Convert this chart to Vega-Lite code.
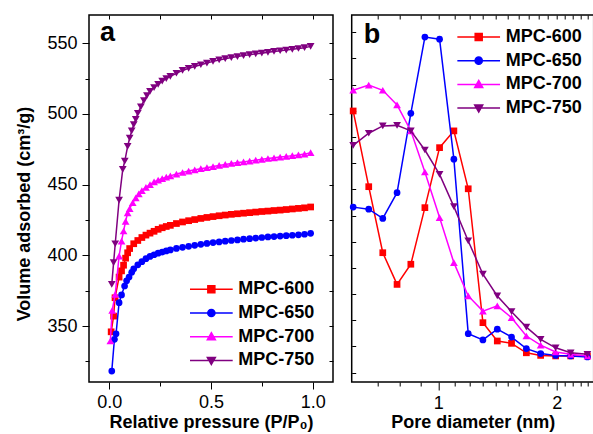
{
  "$schema": "https://vega.github.io/schema/vega-lite/v6.json",
  "background": "white",
  "padding": {"left": 14, "top": 13, "right": 0, "bottom": 0},
  "spacing": 12.7,
  "config": {
    "font": "Liberation Sans",
    "view": {"stroke": "#000", "strokeWidth": 1.5},
    "axis": {"domain": false, "grid": false, "tickColor": "#000", "tickWidth": 1, "labelColor": "#000", "labelFontSize": 18, "labelFont": "Liberation Sans", "titleFont": "Liberation Sans", "titleFontSize": 18, "titleFontWeight": "bold", "titleColor": "#000", "minExtent": 0}
  },
  "datasets": {
    "iso": [
      {"series": "MPC-600", "p": 0.009, "v": 345.9}, {"series": "MPC-600", "p": 0.021, "v": 357}, {"series": "MPC-600", "p": 0.028, "v": 370}, {"series": "MPC-600", "p": 0.048, "v": 384.6}, {"series": "MPC-600", "p": 0.06, "v": 389}, {"series": "MPC-600", "p": 0.07, "v": 393}, {"series": "MPC-600", "p": 0.08, "v": 398}, {"series": "MPC-600", "p": 0.09, "v": 401.8}, {"series": "MPC-600", "p": 0.1, "v": 404.8}, {"series": "MPC-600", "p": 0.12, "v": 408.2}, {"series": "MPC-600", "p": 0.14, "v": 410.5}, {"series": "MPC-600", "p": 0.16, "v": 412.6}, {"series": "MPC-600", "p": 0.18, "v": 414.3}, {"series": "MPC-600", "p": 0.2, "v": 415.7}, {"series": "MPC-600", "p": 0.22, "v": 417}, {"series": "MPC-600", "p": 0.24, "v": 418.4}, {"series": "MPC-600", "p": 0.26, "v": 419.5}, {"series": "MPC-600", "p": 0.28, "v": 420.4}, {"series": "MPC-600", "p": 0.3, "v": 421.2}, {"series": "MPC-600", "p": 0.33, "v": 422.5}, {"series": "MPC-600", "p": 0.36, "v": 423.6}, {"series": "MPC-600", "p": 0.39, "v": 424.5}, {"series": "MPC-600", "p": 0.42, "v": 425.3}, {"series": "MPC-600", "p": 0.45, "v": 426.1}, {"series": "MPC-600", "p": 0.48, "v": 426.8}, {"series": "MPC-600", "p": 0.51, "v": 427.4}, {"series": "MPC-600", "p": 0.54, "v": 428}, {"series": "MPC-600", "p": 0.57, "v": 428.5}, {"series": "MPC-600", "p": 0.6, "v": 429}, {"series": "MPC-600", "p": 0.63, "v": 429.4}, {"series": "MPC-600", "p": 0.66, "v": 429.8}, {"series": "MPC-600", "p": 0.69, "v": 430.2}, {"series": "MPC-600", "p": 0.72, "v": 430.6}, {"series": "MPC-600", "p": 0.75, "v": 431}, {"series": "MPC-600", "p": 0.78, "v": 431.3}, {"series": "MPC-600", "p": 0.81, "v": 431.7}, {"series": "MPC-600", "p": 0.84, "v": 432}, {"series": "MPC-600", "p": 0.87, "v": 432.4}, {"series": "MPC-600", "p": 0.9, "v": 432.8}, {"series": "MPC-600", "p": 0.93, "v": 433.2}, {"series": "MPC-600", "p": 0.96, "v": 433.6}, {"series": "MPC-600", "p": 0.99, "v": 434.2},
      {"series": "MPC-650", "p": 0.012, "v": 318.1}, {"series": "MPC-650", "p": 0.025, "v": 340.6}, {"series": "MPC-650", "p": 0.033, "v": 344.5}, {"series": "MPC-650", "p": 0.048, "v": 366.5}, {"series": "MPC-650", "p": 0.06, "v": 372}, {"series": "MPC-650", "p": 0.075, "v": 378.3}, {"series": "MPC-650", "p": 0.085, "v": 382}, {"series": "MPC-650", "p": 0.097, "v": 384.6}, {"series": "MPC-650", "p": 0.11, "v": 388}, {"series": "MPC-650", "p": 0.12, "v": 390.5}, {"series": "MPC-650", "p": 0.14, "v": 393.3}, {"series": "MPC-650", "p": 0.16, "v": 395.5}, {"series": "MPC-650", "p": 0.18, "v": 397.6}, {"series": "MPC-650", "p": 0.2, "v": 399.2}, {"series": "MPC-650", "p": 0.22, "v": 400.4}, {"series": "MPC-650", "p": 0.24, "v": 401.5}, {"series": "MPC-650", "p": 0.26, "v": 402.3}, {"series": "MPC-650", "p": 0.28, "v": 403.1}, {"series": "MPC-650", "p": 0.3, "v": 403.8}, {"series": "MPC-650", "p": 0.33, "v": 404.9}, {"series": "MPC-650", "p": 0.36, "v": 405.7}, {"series": "MPC-650", "p": 0.39, "v": 406.4}, {"series": "MPC-650", "p": 0.42, "v": 407.1}, {"series": "MPC-650", "p": 0.45, "v": 407.8}, {"series": "MPC-650", "p": 0.48, "v": 408.4}, {"series": "MPC-650", "p": 0.51, "v": 409}, {"series": "MPC-650", "p": 0.54, "v": 409.5}, {"series": "MPC-650", "p": 0.57, "v": 410}, {"series": "MPC-650", "p": 0.6, "v": 410.5}, {"series": "MPC-650", "p": 0.63, "v": 410.9}, {"series": "MPC-650", "p": 0.66, "v": 411.4}, {"series": "MPC-650", "p": 0.69, "v": 411.8}, {"series": "MPC-650", "p": 0.72, "v": 412.2}, {"series": "MPC-650", "p": 0.75, "v": 412.6}, {"series": "MPC-650", "p": 0.78, "v": 413}, {"series": "MPC-650", "p": 0.81, "v": 413.3}, {"series": "MPC-650", "p": 0.84, "v": 413.6}, {"series": "MPC-650", "p": 0.87, "v": 413.9}, {"series": "MPC-650", "p": 0.9, "v": 414.2}, {"series": "MPC-650", "p": 0.93, "v": 414.5}, {"series": "MPC-650", "p": 0.96, "v": 414.9}, {"series": "MPC-650", "p": 0.99, "v": 415.6},
      {"series": "MPC-700", "p": 0.005, "v": 339.4}, {"series": "MPC-700", "p": 0.014, "v": 361.1}, {"series": "MPC-700", "p": 0.029, "v": 372.4}, {"series": "MPC-700", "p": 0.048, "v": 399.5}, {"series": "MPC-700", "p": 0.06, "v": 410}, {"series": "MPC-700", "p": 0.07, "v": 417.2}, {"series": "MPC-700", "p": 0.08, "v": 424}, {"series": "MPC-700", "p": 0.09, "v": 430.1}, {"series": "MPC-700", "p": 0.1, "v": 433}, {"series": "MPC-700", "p": 0.115, "v": 437.2}, {"series": "MPC-700", "p": 0.13, "v": 440.6}, {"series": "MPC-700", "p": 0.145, "v": 443.5}, {"series": "MPC-700", "p": 0.16, "v": 445.8}, {"series": "MPC-700", "p": 0.18, "v": 448}, {"series": "MPC-700", "p": 0.2, "v": 450}, {"series": "MPC-700", "p": 0.22, "v": 451.9}, {"series": "MPC-700", "p": 0.24, "v": 453.2}, {"series": "MPC-700", "p": 0.26, "v": 454.3}, {"series": "MPC-700", "p": 0.28, "v": 455.3}, {"series": "MPC-700", "p": 0.3, "v": 456.2}, {"series": "MPC-700", "p": 0.33, "v": 457.5}, {"series": "MPC-700", "p": 0.36, "v": 458.6}, {"series": "MPC-700", "p": 0.39, "v": 459.6}, {"series": "MPC-700", "p": 0.42, "v": 460.5}, {"series": "MPC-700", "p": 0.45, "v": 461.3}, {"series": "MPC-700", "p": 0.48, "v": 462}, {"series": "MPC-700", "p": 0.51, "v": 462.8}, {"series": "MPC-700", "p": 0.54, "v": 463.6}, {"series": "MPC-700", "p": 0.57, "v": 464.3}, {"series": "MPC-700", "p": 0.6, "v": 465}, {"series": "MPC-700", "p": 0.63, "v": 465.6}, {"series": "MPC-700", "p": 0.66, "v": 466.1}, {"series": "MPC-700", "p": 0.69, "v": 466.7}, {"series": "MPC-700", "p": 0.72, "v": 467.3}, {"series": "MPC-700", "p": 0.75, "v": 467.9}, {"series": "MPC-700", "p": 0.78, "v": 468.5}, {"series": "MPC-700", "p": 0.81, "v": 469}, {"series": "MPC-700", "p": 0.84, "v": 469.5}, {"series": "MPC-700", "p": 0.87, "v": 470}, {"series": "MPC-700", "p": 0.9, "v": 470.5}, {"series": "MPC-700", "p": 0.93, "v": 471}, {"series": "MPC-700", "p": 0.96, "v": 471.6}, {"series": "MPC-700", "p": 0.99, "v": 472.6},
      {"series": "MPC-750", "p": 0.012, "v": 379.5}, {"series": "MPC-750", "p": 0.021, "v": 394.8}, {"series": "MPC-750", "p": 0.029, "v": 408.2}, {"series": "MPC-750", "p": 0.048, "v": 439.1}, {"series": "MPC-750", "p": 0.066, "v": 460.8}, {"series": "MPC-750", "p": 0.076, "v": 466.7}, {"series": "MPC-750", "p": 0.09, "v": 477}, {"series": "MPC-750", "p": 0.1, "v": 483}, {"series": "MPC-750", "p": 0.11, "v": 488}, {"series": "MPC-750", "p": 0.12, "v": 492.5}, {"series": "MPC-750", "p": 0.13, "v": 496.2}, {"series": "MPC-750", "p": 0.14, "v": 500.5}, {"series": "MPC-750", "p": 0.155, "v": 505}, {"series": "MPC-750", "p": 0.17, "v": 509.5}, {"series": "MPC-750", "p": 0.185, "v": 513}, {"series": "MPC-750", "p": 0.2, "v": 516}, {"series": "MPC-750", "p": 0.22, "v": 518.6}, {"series": "MPC-750", "p": 0.24, "v": 521}, {"series": "MPC-750", "p": 0.26, "v": 523.2}, {"series": "MPC-750", "p": 0.28, "v": 525}, {"series": "MPC-750", "p": 0.3, "v": 526.6}, {"series": "MPC-750", "p": 0.33, "v": 528.8}, {"series": "MPC-750", "p": 0.36, "v": 530.8}, {"series": "MPC-750", "p": 0.39, "v": 532.3}, {"series": "MPC-750", "p": 0.42, "v": 533.6}, {"series": "MPC-750", "p": 0.45, "v": 534.8}, {"series": "MPC-750", "p": 0.48, "v": 536}, {"series": "MPC-750", "p": 0.51, "v": 537.2}, {"series": "MPC-750", "p": 0.54, "v": 538.2}, {"series": "MPC-750", "p": 0.57, "v": 539.1}, {"series": "MPC-750", "p": 0.6, "v": 539.9}, {"series": "MPC-750", "p": 0.63, "v": 540.6}, {"series": "MPC-750", "p": 0.66, "v": 541.3}, {"series": "MPC-750", "p": 0.69, "v": 541.9}, {"series": "MPC-750", "p": 0.72, "v": 542.5}, {"series": "MPC-750", "p": 0.75, "v": 543}, {"series": "MPC-750", "p": 0.78, "v": 543.6}, {"series": "MPC-750", "p": 0.81, "v": 544.2}, {"series": "MPC-750", "p": 0.84, "v": 544.7}, {"series": "MPC-750", "p": 0.87, "v": 545.2}, {"series": "MPC-750", "p": 0.9, "v": 545.7}, {"series": "MPC-750", "p": 0.93, "v": 546.3}, {"series": "MPC-750", "p": 0.96, "v": 546.9}, {"series": "MPC-750", "p": 0.99, "v": 547.8}
    ],
    "psd": [
      {"series": "MPC-600", "d": 0.608, "v": 9.99}, {"series": "MPC-600", "d": 0.666, "v": 7.1}, {"series": "MPC-600", "d": 0.723, "v": 4.58}, {"series": "MPC-600", "d": 0.786, "v": 3.37}, {"series": "MPC-600", "d": 0.852, "v": 4.14}, {"series": "MPC-600", "d": 0.925, "v": 6.3}, {"series": "MPC-600", "d": 1.008, "v": 8.59}, {"series": "MPC-600", "d": 1.096, "v": 9.23}, {"series": "MPC-600", "d": 1.192, "v": 7.02}, {"series": "MPC-600", "d": 1.299, "v": 1.91}, {"series": "MPC-600", "d": 1.413, "v": 1.21}, {"series": "MPC-600", "d": 1.536, "v": 1.12}, {"series": "MPC-600", "d": 1.675, "v": 0.76}, {"series": "MPC-600", "d": 1.821, "v": 0.66}, {"series": "MPC-600", "d": 1.988, "v": 0.64}, {"series": "MPC-600", "d": 2.171, "v": 0.64}, {"series": "MPC-600", "d": 2.394, "v": 0.64},
      {"series": "MPC-650", "d": 0.608, "v": 6.32}, {"series": "MPC-650", "d": 0.666, "v": 6.24}, {"series": "MPC-650", "d": 0.723, "v": 5.89}, {"series": "MPC-650", "d": 0.786, "v": 6.87}, {"series": "MPC-650", "d": 0.852, "v": 9.9}, {"series": "MPC-650", "d": 0.925, "v": 12.81}, {"series": "MPC-650", "d": 1.008, "v": 12.73}, {"series": "MPC-650", "d": 1.096, "v": 8.15}, {"series": "MPC-650", "d": 1.192, "v": 1.49}, {"series": "MPC-650", "d": 1.299, "v": 1.25}, {"series": "MPC-650", "d": 1.413, "v": 1.66}, {"series": "MPC-650", "d": 1.536, "v": 1.36}, {"series": "MPC-650", "d": 1.675, "v": 0.92}, {"series": "MPC-650", "d": 1.821, "v": 0.73}, {"series": "MPC-650", "d": 1.988, "v": 0.66}, {"series": "MPC-650", "d": 2.171, "v": 0.64}, {"series": "MPC-650", "d": 2.394, "v": 0.6},
      {"series": "MPC-700", "d": 0.608, "v": 10.78}, {"series": "MPC-700", "d": 0.666, "v": 10.98}, {"series": "MPC-700", "d": 0.723, "v": 10.78}, {"series": "MPC-700", "d": 0.786, "v": 10.22}, {"series": "MPC-700", "d": 0.852, "v": 9.23}, {"series": "MPC-700", "d": 0.925, "v": 7.66}, {"series": "MPC-700", "d": 1.008, "v": 5.92}, {"series": "MPC-700", "d": 1.096, "v": 4.2}, {"series": "MPC-700", "d": 1.192, "v": 2.93}, {"series": "MPC-700", "d": 1.299, "v": 2.35}, {"series": "MPC-700", "d": 1.413, "v": 2.55}, {"series": "MPC-700", "d": 1.536, "v": 2.1}, {"series": "MPC-700", "d": 1.675, "v": 1.4}, {"series": "MPC-700", "d": 1.821, "v": 1.05}, {"series": "MPC-700", "d": 1.988, "v": 0.79}, {"series": "MPC-700", "d": 2.171, "v": 0.7}, {"series": "MPC-700", "d": 2.394, "v": 0.64},
      {"series": "MPC-750", "d": 0.608, "v": 8.68}, {"series": "MPC-750", "d": 0.666, "v": 9.14}, {"series": "MPC-750", "d": 0.723, "v": 9.42}, {"series": "MPC-750", "d": 0.786, "v": 9.44}, {"series": "MPC-750", "d": 0.852, "v": 9.23}, {"series": "MPC-750", "d": 0.925, "v": 8.5}, {"series": "MPC-750", "d": 1.008, "v": 7.57}, {"series": "MPC-750", "d": 1.096, "v": 6.34}, {"series": "MPC-750", "d": 1.192, "v": 5.03}, {"series": "MPC-750", "d": 1.299, "v": 3.76}, {"series": "MPC-750", "d": 1.413, "v": 2.93}, {"series": "MPC-750", "d": 1.536, "v": 2.33}, {"series": "MPC-750", "d": 1.675, "v": 1.74}, {"series": "MPC-750", "d": 1.821, "v": 1.27}, {"series": "MPC-750", "d": 1.988, "v": 0.95}, {"series": "MPC-750", "d": 2.171, "v": 0.76}, {"series": "MPC-750", "d": 2.394, "v": 0.7}
    ]
  },
  "hconcat": [
    {
      "width": 244,
      "height": 367,
      "data": {"name": "iso"},
      "layer": [
        {
          "transform": [{"filter": "datum.series === 'MPC-600'"}],
          "mark": {"type": "line", "color": "#ff0000", "strokeWidth": 1.5, "point": {"shape": "square", "size": 45, "filled": true, "opacity": 1, "color": "#ff0000"}},
          "encoding": {
            "x": {"field": "p", "type": "quantitative", "scale": {"domain": [-0.1, 1.1], "nice": false, "zero": false},
              "axis": {"orient": "bottom", "values": [0, 0.25, 0.5, 0.75, 1], "format": ".1f", "labelExpr": "datum.value % 0.5 === 0 ? datum.label : ''", "tickSize": {"condition": {"test": "datum.value === 0 || datum.value === 0.5 || datum.value === 1", "value": 7}, "value": 4}, "labelPadding": 4, "title": "Relative pressure (P/P₀)", "titleBaseline": "alphabetic", "titleY": 45.2}},
            "y": {"field": "v", "type": "quantitative", "scale": {"domain": [310.4, 570], "nice": false, "zero": false},
              "axis": {"orient": "left", "values": [325, 350, 375, 400, 425, 450, 475, 500, 525, 550], "labelExpr": "datum.value % 50 === 0 ? datum.label : ''", "tickSize": {"condition": {"test": "datum.value % 50 === 0", "value": 7}, "value": 4}, "labelPadding": 5, "title": "Volume adsorbed (cm³/g)", "titleBaseline": "alphabetic", "titleX": -59.7, "titleY": 198.5, "titleAngle": -90, "titleAlign": "center"}}
          }
        },
        {
          "transform": [{"filter": "datum.series === 'MPC-650'"}],
          "mark": {"type": "line", "color": "#0000ff", "strokeWidth": 1.5, "point": {"shape": "circle", "size": 45, "filled": true, "opacity": 1, "color": "#0000ff"}},
          "encoding": {
            "x": {"field": "p", "type": "quantitative", "axis": null},
            "y": {"field": "v", "type": "quantitative", "axis": null}
          }
        },
        {
          "transform": [{"filter": "datum.series === 'MPC-700'"}],
          "mark": {"type": "line", "color": "#ff00ff", "strokeWidth": 1.5, "point": {"shape": "triangle-up", "size": 60, "filled": true, "opacity": 1, "color": "#ff00ff"}},
          "encoding": {
            "x": {"field": "p", "type": "quantitative", "axis": null},
            "y": {"field": "v", "type": "quantitative", "axis": null}
          }
        },
        {
          "transform": [{"filter": "datum.series === 'MPC-750'"}],
          "mark": {"type": "line", "color": "#800080", "strokeWidth": 1.5, "point": {"shape": "triangle-down", "size": 60, "filled": true, "opacity": 1, "color": "#800080"}},
          "encoding": {
            "x": {"field": "p", "type": "quantitative", "axis": null},
            "y": {"field": "v", "type": "quantitative", "axis": null}
          }
        },
        {
          "transform": [{"filter": "false"}],
          "mark": {"type": "point", "opacity": 0},
          "encoding": {
            "x": {"field": "p", "type": "quantitative", "axis": {"orient": "top", "values": [0, 0.25, 0.5, 0.75, 1], "labels": false, "tickSize": -4, "title": "a", "titleX": 10.5, "titleY": 25.3, "titleAlign": "left", "titleBaseline": "alphabetic", "titleAngle": 0, "titleFontSize": 27, "titleFontWeight": "bold"}},
            "y": {"field": "v", "type": "quantitative", "axis": {"orient": "right", "values": [325, 350, 375, 400, 425, 450, 475, 500, 525, 550], "labels": false, "tickSize": -4, "title": null}}
          }
        },
        {
          "transform": [{"filter": "false"}],
          "mark": {"type": "point", "filled": true, "opacity": 1},
          "encoding": {
            "color": {"field": "series", "type": "nominal", "scale": {"domain": ["MPC-600", "MPC-650", "MPC-700", "MPC-750"], "range": ["#ff0000", "#0000ff", "#ff00ff", "#800080"]},
              "legend": {"orient": "none", "legendX": 113.35, "legendY": 265.3, "title": null, "labelFontSize": 18, "labelFontWeight": "bold", "labelFont": "Liberation Sans", "labelColor": "#000", "symbolSize": 100, "symbolStrokeWidth": 1.5, "labelOffset": 18, "rowPadding": 5.7, "padding": 0}},
            "stroke": {"field": "series", "type": "nominal", "scale": {"domain": ["MPC-600", "MPC-650", "MPC-700", "MPC-750"], "range": ["#ff0000", "#0000ff", "#ff00ff", "#800080"]},
              "legend": {"orient": "none", "legendX": 113.35, "legendY": 265.3, "title": null, "labelFontSize": 18, "labelFontWeight": "bold", "labelFont": "Liberation Sans", "labelColor": "#000", "symbolSize": 100, "symbolStrokeWidth": 1.5, "labelOffset": 18, "rowPadding": 5.7, "padding": 0}},
            "shape": {"field": "series", "type": "nominal", "scale": {"domain": ["MPC-600", "MPC-650", "MPC-700", "MPC-750"], "range": ["M-4.27,0L4.27,0M-0.7,-0.7L0.7,-0.7L0.7,0.7L-0.7,0.7Z", "M-4.27,0L4.27,0M-0.72,0A0.72,0.72,0,1,1,0.72,0A0.72,0.72,0,1,1,-0.72,0Z", "M-4.27,0L4.27,0M0,-0.8L0.8,0.6L-0.8,0.6Z", "M-4.27,0L4.27,0M0,0.8L0.8,-0.6L-0.8,-0.6Z"]},
              "legend": {"orient": "none", "legendX": 113.35, "legendY": 265.3, "title": null, "labelFontSize": 18, "labelFontWeight": "bold", "labelFont": "Liberation Sans", "labelColor": "#000", "symbolSize": 100, "symbolStrokeWidth": 1.5, "labelOffset": 18, "rowPadding": 5.7, "padding": 0}}
          }
        }
      ],
      "resolve": {"axis": {"x": "independent", "y": "independent"}}
    },
    {
      "width": 242,
      "height": 367,
      "data": {"name": "psd"},
      "layer": [
        {
          "transform": [{"filter": "datum.series === 'MPC-600'"}],
          "mark": {"type": "line", "color": "#ff0000", "strokeWidth": 1.5, "point": {"shape": "square", "size": 45, "filled": true, "opacity": 1, "color": "#ff0000"}},
          "encoding": {
            "x": {"field": "d", "type": "quantitative", "scale": {"type": "log", "domain": [0.6028, 2.4838], "nice": false},
              "axis": {"orient": "bottom", "values": [0.7, 0.8, 0.9, 1, 1.1, 1.2, 1.3, 1.4, 1.5, 1.6, 1.7, 1.8, 1.9, 2, 2.1, 2.2, 2.3, 2.4], "format": "~g", "labelExpr": "datum.value === 1 || datum.value === 2 ? datum.label : ''", "tickSize": {"condition": {"test": "datum.value === 1 || datum.value === 2", "value": 8}, "value": 4}, "labelPadding": 4, "title": "Pore diameter (nm)", "titleBaseline": "alphabetic", "titleY": 45.2}},
            "y": {"field": "v", "type": "quantitative", "scale": {"domain": [-0.355, 13.653], "nice": false, "zero": false},
              "axis": {"orient": "left", "values": [0, 1, 2, 3, 4, 5, 6, 7, 8, 9, 10, 11, 12, 13], "labels": false, "tickSize": -4, "title": null}}
          }
        },
        {
          "transform": [{"filter": "datum.series === 'MPC-650'"}],
          "mark": {"type": "line", "color": "#0000ff", "strokeWidth": 1.5, "point": {"shape": "circle", "size": 45, "filled": true, "opacity": 1, "color": "#0000ff"}},
          "encoding": {
            "x": {"field": "d", "type": "quantitative", "axis": null},
            "y": {"field": "v", "type": "quantitative", "axis": null}
          }
        },
        {
          "transform": [{"filter": "datum.series === 'MPC-700'"}],
          "mark": {"type": "line", "color": "#ff00ff", "strokeWidth": 1.5, "point": {"shape": "triangle-up", "size": 60, "filled": true, "opacity": 1, "color": "#ff00ff"}},
          "encoding": {
            "x": {"field": "d", "type": "quantitative", "axis": null},
            "y": {"field": "v", "type": "quantitative", "axis": null}
          }
        },
        {
          "transform": [{"filter": "datum.series === 'MPC-750'"}],
          "mark": {"type": "line", "color": "#800080", "strokeWidth": 1.5, "point": {"shape": "triangle-down", "size": 60, "filled": true, "opacity": 1, "color": "#800080"}},
          "encoding": {
            "x": {"field": "d", "type": "quantitative", "axis": null},
            "y": {"field": "v", "type": "quantitative", "axis": null}
          }
        },
        {
          "transform": [{"filter": "false"}],
          "mark": {"type": "point", "opacity": 0},
          "encoding": {
            "x": {"field": "d", "type": "quantitative", "axis": {"orient": "top", "values": [0.7, 0.8, 0.9, 1, 1.1, 1.2, 1.3, 1.4, 1.5, 1.6, 1.7, 1.8, 1.9, 2, 2.1, 2.2, 2.3, 2.4], "labels": false, "tickSize": -4, "title": "b", "titleX": 11.5, "titleY": 27.7, "titleAlign": "left", "titleBaseline": "alphabetic", "titleAngle": 0, "titleFontSize": 27, "titleFontWeight": "bold"}}
          }
        },
        {
          "transform": [{"filter": "false"}],
          "mark": {"type": "point", "filled": true, "opacity": 1},
          "encoding": {
            "color": {"field": "series", "type": "nominal", "scale": {"domain": ["MPC-600", "MPC-650", "MPC-700", "MPC-750"], "range": ["#ff0000", "#0000ff", "#ff00ff", "#800080"]},
              "legend": {"orient": "none", "legendX": 118, "legendY": 13, "title": null, "labelFontSize": 18, "labelFontWeight": "bold", "labelFont": "Liberation Sans", "labelColor": "#000", "symbolSize": 100, "symbolStrokeWidth": 1.5, "labelOffset": 18, "rowPadding": 5.7, "padding": 0}},
            "stroke": {"field": "series", "type": "nominal", "scale": {"domain": ["MPC-600", "MPC-650", "MPC-700", "MPC-750"], "range": ["#ff0000", "#0000ff", "#ff00ff", "#800080"]},
              "legend": {"orient": "none", "legendX": 118, "legendY": 13, "title": null, "labelFontSize": 18, "labelFontWeight": "bold", "labelFont": "Liberation Sans", "labelColor": "#000", "symbolSize": 100, "symbolStrokeWidth": 1.5, "labelOffset": 18, "rowPadding": 5.7, "padding": 0}},
            "shape": {"field": "series", "type": "nominal", "scale": {"domain": ["MPC-600", "MPC-650", "MPC-700", "MPC-750"], "range": ["M-4.27,0L4.27,0M-0.7,-0.7L0.7,-0.7L0.7,0.7L-0.7,0.7Z", "M-4.27,0L4.27,0M-0.72,0A0.72,0.72,0,1,1,0.72,0A0.72,0.72,0,1,1,-0.72,0Z", "M-4.27,0L4.27,0M0,-0.8L0.8,0.6L-0.8,0.6Z", "M-4.27,0L4.27,0M0,0.8L0.8,-0.6L-0.8,-0.6Z"]},
              "legend": {"orient": "none", "legendX": 118, "legendY": 13, "title": null, "labelFontSize": 18, "labelFontWeight": "bold", "labelFont": "Liberation Sans", "labelColor": "#000", "symbolSize": 100, "symbolStrokeWidth": 1.5, "labelOffset": 18, "rowPadding": 5.7, "padding": 0}}
          }
        }
      ],
      "resolve": {"axis": {"x": "independent", "y": "independent"}}
    }
  ],
  "resolve": {
    "scale": {"color": "independent", "stroke": "independent", "shape": "independent"},
    "legend": {"color": "independent", "stroke": "independent", "shape": "independent"}
  }
}
